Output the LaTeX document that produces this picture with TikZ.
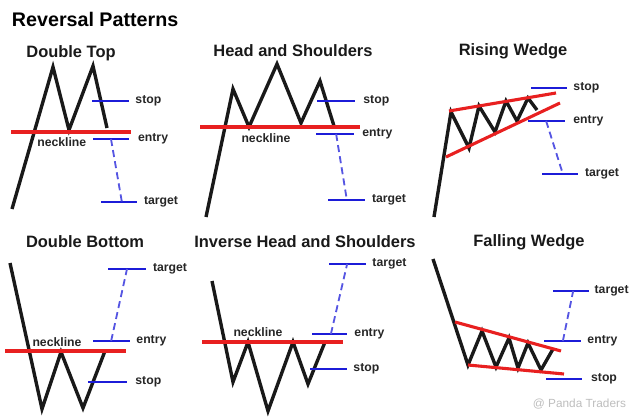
\documentclass[tikz,border=0pt]{standalone}
\usepackage{fontspec}
\setmainfont{Liberation Sans}
\usetikzlibrary{positioning}
\definecolor{neck}{HTML}{E82020}
\definecolor{lvl}{HTML}{1C1CD8}
\definecolor{wmgray}{HTML}{BDBDBD}

\begin{document}
\begin{tikzpicture}[x=0.025cm, y=-0.025cm,
      price/.style={line width=2.4pt, black!90},
      neckline/.style={line width=2.2pt, neck},
      level/.style={line width=2pt, lvl},
      reach/.style={line width=1.3pt, lvl!75, dash pattern=on 5pt off 3pt},
      tag/.style={font=\fontsize{8.7}{10}\selectfont\bfseries, text=black!85, inner sep=0pt},
      head/.style={font=\fontsize{11.7}{13}\selectfont\bfseries, text=black!90}]
    \useasboundingbox (0,0) rectangle (632,420);
    \node[font=\fontsize{14}{16}\selectfont\bfseries, anchor=west] (title) at (7,19) {Reversal Patterns};

    % double top
    \node[head] (dtop) at (71,53) {Double Top};
    \draw[price] (12,209) -- (53,67) -- (69,130) -- (93,66) -- (107,128);
    \draw[neckline] (11,132) -- (131,132);
    \node[tag, anchor=west] (dtneck) at (37,142) {neckline};
    \draw[level] (92,101) -- (129,101) node[tag, right=3.6pt] (dtstop) {stop};
    \draw[level] (93,139) -- coordinate[pos=0.5] (dtin) (129,139) node[tag, right=5.5pt] (dtentry) {entry};
    \draw[level] (101,202) -- coordinate[pos=0.58] (dtout) (137,202) node[tag, right=4pt] (dttarget) {target};
    \draw[reach] (dtin) -- (dtout);

    % head and shoulders
    \node[head] (hs) at (293,51) {Head and Shoulders};
    \draw[price] (206,217) -- (233,89) -- (249,127) -- (277,64) -- (301,123) -- (320,81) -- (334,126);
    \draw[neckline] (200,127) -- (360,127);
    \node[tag] (hsneck) at (266,138) {neckline};
    \draw[level] (317,101) -- (355,101) node[tag, right=5pt] (hsstop) {stop};
    \draw[level] (316,134) -- coordinate[pos=0.53] (hsin) (354,134) node[tag, right=5pt] (hsentry) {entry};
    \draw[level] (328,200) -- coordinate[pos=0.51] (hsout) (365,200) node[tag, right=4pt] (hstarget) {target};
    \draw[reach] (hsin) -- (hsout);

    % rising wedge
    \node[head] (rw) at (513,51) {Rising Wedge};
    \draw[price] (434,217) -- (451,112) -- (469,148) -- (479,106) -- (495,132) -- (506,101)
      -- (517,121) -- (528,98) -- (537,110);
    \draw[neckline] (449,111) -- (556,93);
    \draw[neckline] (446,157) -- (560,103);
    \draw[level] (531,88) -- (567,88) node[tag, right=3.6pt] (rwstop) {stop};
    \draw[level] (528,121) -- coordinate[pos=0.49] (rwin) (565,121) node[tag, right=5pt] (rwentry) {entry};
    \draw[level] (542,174) -- coordinate[pos=0.58] (rwout) (578,174) node[tag, right=4pt] (rwtarget) {target};
    \draw[reach] (rwin) -- (rwout);

    % double bottom
    \node[head] (dbot) at (85,242) {Double Bottom};
    \draw[price] (10,263) -- (42,409) -- (61,352) -- (83,408) -- (105,351);
    \draw[neckline] (5,351) -- (126,351);
    \node[tag] (dbneck) at (57,342) {neckline};
    \draw[level] (108,269) -- coordinate[pos=0.5] (dbout) (146,269) node[tag, right=4pt] (dbtarget) {target};
    \draw[level] (93,341) -- coordinate[pos=0.49] (dbin) (130,341) node[tag, right=3.6pt] (dbentry) {entry};
    \draw[level] (88,382) -- (127,382) node[tag, right=5pt] (dbstop) {stop};
    \draw[reach] (dbin) -- (dbout);

    % inverse head and shoulders
    \node[head] (ihs) at (305,242) {Inverse Head and Shoulders};
    \draw[price] (212,281) -- (233,382) -- (248,342) -- (268,411) -- (293,342) -- (308,384) -- (325,342);
    \draw[neckline] (202,342) -- (343,342);
    \node[tag] (ihsneck) at (258,332) {neckline};
    \draw[level] (329,264) -- coordinate[pos=0.49] (ihsout) (366,264) node[tag, right=3.6pt] (ihstarget) {target};
    \draw[level] (312,334) -- coordinate[pos=0.54] (ihsin) (347,334) node[tag, right=4.3pt] (ihsentry) {entry};
    \draw[level] (310,369) -- (347,369) node[tag, right=3.6pt] (ihsstop) {stop};
    \draw[reach] (ihsin) -- (ihsout);

    % falling wedge
    \node[head] (fw) at (529,242) {Falling Wedge};
    \draw[price] (433,259) -- (468,365) -- (482,331) -- (496,367) -- (509,338) -- (518,368)
      -- (528,343) -- (541,370) -- (553,349);
    \draw[neckline] (455,322) -- (561,351);
    \draw[neckline] (468,365) -- (564,374);
    \draw[level] (553,291) -- coordinate[pos=0.56] (fwout) (589,291) node[tag, right=3pt] (fwtarget) {target};
    \draw[level] (544,341) -- coordinate[pos=0.51] (fwin) (581,341) node[tag, right=3.6pt] (fwentry) {entry};
    \draw[level] (546,379) -- (582,379) node[tag, right=5.5pt] (fwstop) {stop};
    \draw[reach] (fwin) -- (fwout);

    \node[font=\fontsize{8.4}{10}\selectfont, text=wmgray, anchor=west] (wmark) at (528,404) {@ Panda Traders};
  \end{tikzpicture}
\end{document}
